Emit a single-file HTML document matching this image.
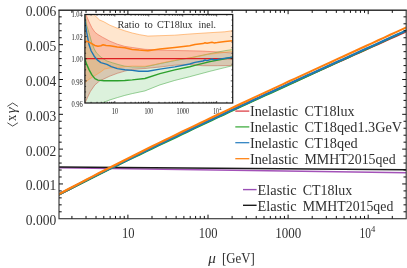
<!DOCTYPE html>
<html><head><meta charset="utf-8"><title>chart</title>
<style>html,body{margin:0;padding:0;background:#fff;overflow:hidden}svg{display:block;position:absolute;left:0;top:0}</style></head>
<body>
<svg width="407" height="268" viewBox="0 0 407 268">
<rect width="407" height="268" fill="#fff"/>
<clipPath id="mc"><rect x="59.0" y="10.2" width="347.2" height="208.45000000000002"/></clipPath>
<g clip-path="url(#mc)" fill="none" stroke-linecap="butt">
<path d="M59.0,167.7 L406.2,172.7" stroke="#a352b8" stroke-width="1.4"/>
<path d="M59.0,167.0 L406.2,169.7" stroke="#1a1a1a" stroke-width="1.6"/>
<path d="M57.0,195.7 L62.9,192.6 L68.9,189.5 L74.8,186.4 L80.8,183.3 L86.7,180.3 L92.7,177.2 L98.6,174.2 L104.6,171.2 L110.5,168.2 L116.5,165.3 L122.4,162.3 L128.4,159.4 L134.3,156.4 L140.3,153.5 L146.2,150.6 L152.2,147.7 L158.1,144.9 L164.1,142.0 L170.0,139.2 L176.0,136.3 L181.9,133.5 L187.9,130.7 L193.8,127.9 L199.8,125.1 L205.7,122.3 L211.7,119.5 L217.6,116.8 L223.6,114.0 L229.5,111.3 L235.5,108.5 L241.4,105.8 L247.4,103.1 L253.3,100.3 L259.3,97.6 L265.2,94.9 L271.2,92.2 L277.1,89.5 L283.1,86.8 L289.0,84.1 L295.0,81.5 L300.9,78.8 L306.9,76.1 L312.8,73.4 L318.8,70.7 L324.7,68.1 L330.7,65.4 L336.6,62.7 L342.6,60.1 L348.5,57.4 L354.5,54.7 L360.4,52.0 L366.4,49.4 L372.3,46.7 L378.3,44.0 L384.2,41.3 L390.2,38.7 L396.1,36.0 L402.1,33.3 L408.0,30.6" stroke="#d62728" stroke-width="2.0"/>
<path d="M57.0,195.8 L62.9,192.7 L68.9,189.6 L74.8,186.6 L80.8,183.6 L86.7,180.6 L92.7,177.6 L98.6,174.6 L104.6,171.7 L110.5,168.7 L116.5,165.8 L122.4,162.9 L128.4,160.0 L134.3,157.1 L140.3,154.3 L146.2,151.4 L152.2,148.6 L158.1,145.7 L164.1,142.9 L170.0,140.1 L176.0,137.3 L181.9,134.4 L187.9,131.6 L193.8,128.7 L199.8,125.9 L205.7,123.1 L211.7,120.3 L217.6,117.5 L223.6,114.8 L229.5,112.0 L235.5,109.2 L241.4,106.5 L247.4,103.7 L253.3,101.0 L259.3,98.2 L265.2,95.5 L271.2,92.8 L277.1,90.1 L283.1,87.3 L289.0,84.6 L295.0,81.9 L300.9,79.2 L306.9,76.5 L312.8,73.7 L318.8,71.0 L324.7,68.2 L330.7,65.5 L336.6,62.7 L342.6,60.0 L348.5,57.3 L354.5,54.5 L360.4,51.8 L366.4,49.1 L372.3,46.3 L378.3,43.6 L384.2,40.8 L390.2,38.1 L396.1,35.3 L402.1,32.6 L408.0,29.8" stroke="#2ca02c" stroke-width="1.9"/>
<path d="M57.0,195.4 L62.9,192.3 L68.9,189.2 L74.8,186.2 L80.8,183.1 L86.7,180.1 L92.7,177.1 L98.6,174.1 L104.6,171.1 L110.5,168.2 L116.5,165.2 L122.4,162.3 L128.4,159.4 L134.3,156.5 L140.3,153.6 L146.2,150.7 L152.2,147.8 L158.1,145.0 L164.1,142.1 L170.0,139.3 L176.0,136.5 L181.9,133.6 L187.9,130.8 L193.8,127.9 L199.8,125.1 L205.7,122.3 L211.7,119.5 L217.6,116.7 L223.6,113.9 L229.5,111.1 L235.5,108.4 L241.4,105.6 L247.4,102.9 L253.3,100.1 L259.3,97.4 L265.2,94.6 L271.2,91.9 L277.1,89.2 L283.1,86.5 L289.0,83.7 L295.0,81.0 L300.9,78.3 L306.9,75.6 L312.8,72.9 L318.8,70.2 L324.7,67.5 L330.7,64.8 L336.6,62.1 L342.6,59.4 L348.5,56.7 L354.5,54.0 L360.4,51.3 L366.4,48.6 L372.3,45.9 L378.3,43.2 L384.2,40.5 L390.2,37.8 L396.1,35.1 L402.1,32.4 L408.0,29.7" stroke="#1f77b4" stroke-width="2.2"/>
<path d="M57.0,195.2 L62.9,192.0 L68.9,188.8 L74.8,185.7 L80.8,182.6 L86.7,179.5 L92.7,176.4 L98.6,173.3 L104.6,170.2 L110.5,167.2 L116.5,164.2 L122.4,161.2 L128.4,158.2 L134.3,155.2 L140.3,152.2 L146.2,149.3 L152.2,146.3 L158.1,143.4 L164.1,140.5 L170.0,137.6 L176.0,134.7 L181.9,131.8 L187.9,128.9 L193.8,126.1 L199.8,123.2 L205.7,120.4 L211.7,117.5 L217.6,114.7 L223.6,111.9 L229.5,109.1 L235.5,106.3 L241.4,103.5 L247.4,100.7 L253.3,97.9 L259.3,95.1 L265.2,92.4 L271.2,89.6 L277.1,86.9 L283.1,84.1 L289.0,81.3 L295.0,78.6 L300.9,75.9 L306.9,73.1 L312.8,70.4 L318.8,67.6 L324.7,64.9 L330.7,62.2 L336.6,59.4 L342.6,56.7 L348.5,54.0 L354.5,51.3 L360.4,48.5 L366.4,45.8 L372.3,43.1 L378.3,40.3 L384.2,37.6 L390.2,34.8 L396.1,32.1 L402.1,29.4 L408.0,26.6" stroke="#ff7f0e" stroke-width="2.1"/>
</g>
<rect x="59.0" y="10.2" width="347.2" height="208.5" fill="none" stroke="#383838" stroke-width="1.15"/>
<path d="M58.5,10.2 H406.7" stroke="#2a2a2a" stroke-width="1.15"/>
<path d="M71.91,218.65 v-2.7 M71.91,10.2 v2.7 M86.02,218.65 v-2.7 M86.02,10.2 v2.7 M96.03,218.65 v-2.7 M96.03,10.2 v2.7 M103.79,218.65 v-2.7 M103.79,10.2 v2.7 M110.13,218.65 v-2.7 M110.13,10.2 v2.7 M115.49,218.65 v-2.7 M115.49,10.2 v2.7 M120.14,218.65 v-2.7 M120.14,10.2 v2.7 M124.23,218.65 v-2.7 M124.23,10.2 v2.7 M127.90,218.65 v-4.0 M127.90,10.2 v4.0 M152.01,218.65 v-2.7 M152.01,10.2 v2.7 M166.12,218.65 v-2.7 M166.12,10.2 v2.7 M176.13,218.65 v-2.7 M176.13,10.2 v2.7 M183.89,218.65 v-2.7 M183.89,10.2 v2.7 M190.23,218.65 v-2.7 M190.23,10.2 v2.7 M195.59,218.65 v-2.7 M195.59,10.2 v2.7 M200.24,218.65 v-2.7 M200.24,10.2 v2.7 M204.33,218.65 v-2.7 M204.33,10.2 v2.7 M208.00,218.65 v-4.0 M208.00,10.2 v4.0 M232.11,218.65 v-2.7 M232.11,10.2 v2.7 M246.22,218.65 v-2.7 M246.22,10.2 v2.7 M256.23,218.65 v-2.7 M256.23,10.2 v2.7 M263.99,218.65 v-2.7 M263.99,10.2 v2.7 M270.33,218.65 v-2.7 M270.33,10.2 v2.7 M275.69,218.65 v-2.7 M275.69,10.2 v2.7 M280.34,218.65 v-2.7 M280.34,10.2 v2.7 M284.43,218.65 v-2.7 M284.43,10.2 v2.7 M288.10,218.65 v-4.0 M288.10,10.2 v4.0 M312.21,218.65 v-2.7 M312.21,10.2 v2.7 M326.32,218.65 v-2.7 M326.32,10.2 v2.7 M336.33,218.65 v-2.7 M336.33,10.2 v2.7 M344.09,218.65 v-2.7 M344.09,10.2 v2.7 M350.43,218.65 v-2.7 M350.43,10.2 v2.7 M355.79,218.65 v-2.7 M355.79,10.2 v2.7 M360.44,218.65 v-2.7 M360.44,10.2 v2.7 M364.53,218.65 v-2.7 M364.53,10.2 v2.7 M368.20,218.65 v-4.0 M368.20,10.2 v4.0 M392.31,218.65 v-2.7 M392.31,10.2 v2.7 M59.0,211.79 h2.7 M406.2,211.79 h-2.7 M59.0,204.83 h2.7 M406.2,204.83 h-2.7 M59.0,197.86 h2.7 M406.2,197.86 h-2.7 M59.0,190.90 h2.7 M406.2,190.90 h-2.7 M59.0,183.94 h4.0 M406.2,183.94 h-4.0 M59.0,176.98 h2.7 M406.2,176.98 h-2.7 M59.0,170.02 h2.7 M406.2,170.02 h-2.7 M59.0,163.05 h2.7 M406.2,163.05 h-2.7 M59.0,156.09 h2.7 M406.2,156.09 h-2.7 M59.0,149.13 h4.0 M406.2,149.13 h-4.0 M59.0,142.17 h2.7 M406.2,142.17 h-2.7 M59.0,135.21 h2.7 M406.2,135.21 h-2.7 M59.0,128.24 h2.7 M406.2,128.24 h-2.7 M59.0,121.28 h2.7 M406.2,121.28 h-2.7 M59.0,114.32 h4.0 M406.2,114.32 h-4.0 M59.0,107.36 h2.7 M406.2,107.36 h-2.7 M59.0,100.40 h2.7 M406.2,100.40 h-2.7 M59.0,93.43 h2.7 M406.2,93.43 h-2.7 M59.0,86.47 h2.7 M406.2,86.47 h-2.7 M59.0,79.51 h4.0 M406.2,79.51 h-4.0 M59.0,72.55 h2.7 M406.2,72.55 h-2.7 M59.0,65.59 h2.7 M406.2,65.59 h-2.7 M59.0,58.62 h2.7 M406.2,58.62 h-2.7 M59.0,51.66 h2.7 M406.2,51.66 h-2.7 M59.0,44.70 h4.0 M406.2,44.70 h-4.0 M59.0,37.74 h2.7 M406.2,37.74 h-2.7 M59.0,30.78 h2.7 M406.2,30.78 h-2.7 M59.0,23.81 h2.7 M406.2,23.81 h-2.7 M59.0,16.85 h2.7 M406.2,16.85 h-2.7" stroke="#111" stroke-width="1.0" fill="none"/>
<g font-family="'Liberation Serif', serif" fill="#303030" style="filter:grayscale(1)">
<text x="25.8" y="225.2" font-size="14.2" text-anchor="start" textLength="30.5" lengthAdjust="spacingAndGlyphs" >0.000</text>
<text x="25.8" y="190.3" font-size="14.2" text-anchor="start" textLength="30.5" lengthAdjust="spacingAndGlyphs" >0.001</text>
<text x="25.8" y="155.5" font-size="14.2" text-anchor="start" textLength="30.5" lengthAdjust="spacingAndGlyphs" >0.002</text>
<text x="25.8" y="120.7" font-size="14.2" text-anchor="start" textLength="30.5" lengthAdjust="spacingAndGlyphs" >0.003</text>
<text x="25.8" y="85.9" font-size="14.2" text-anchor="start" textLength="30.5" lengthAdjust="spacingAndGlyphs" >0.004</text>
<text x="25.8" y="51.1" font-size="14.2" text-anchor="start" textLength="30.5" lengthAdjust="spacingAndGlyphs" >0.005</text>
<text x="25.8" y="16.3" font-size="14.2" text-anchor="start" textLength="30.5" lengthAdjust="spacingAndGlyphs" >0.006</text>
<text x="122.0" y="237.6" font-size="14.2" text-anchor="start" textLength="12.6" lengthAdjust="spacingAndGlyphs" >10</text>
<text x="198.8" y="237.6" font-size="14.2" text-anchor="start" textLength="18.8" lengthAdjust="spacingAndGlyphs" >100</text>
<text x="275.2" y="237.6" font-size="14.2" text-anchor="start" textLength="26.0" lengthAdjust="spacingAndGlyphs" >1000</text>
<text x="359.6" y="237.6" font-size="14.2" text-anchor="start" textLength="11.4" lengthAdjust="spacingAndGlyphs" >10</text>
<text x="371.0" y="232.4" font-size="8.6" text-anchor="start" >4</text>
<text x="208.2" y="262.8" font-size="14.2" text-anchor="start" textLength="7.6" lengthAdjust="spacingAndGlyphs" font-style="italic">μ</text>
<text x="221.9" y="262.8" font-size="14.2" text-anchor="start" textLength="32.9" lengthAdjust="spacingAndGlyphs" >[GeV]</text>
<g transform="translate(16.2,126.3) rotate(-90)">
<path d="M3.5,-8.8 L0.2,-3.55 L3.5,1.7" fill="none" stroke="#303030" stroke-width="0.85"/>
<text x="5.2" y="0" font-size="14.0" text-anchor="start" textLength="6.2" lengthAdjust="spacingAndGlyphs" >x</text>
<text x="13.0" y="0" font-size="14.0" text-anchor="start" textLength="5.8" lengthAdjust="spacingAndGlyphs" font-style="italic">γ</text>
<path d="M19.9,-8.8 L23.3,-3.55 L19.9,1.7" fill="none" stroke="#303030" stroke-width="0.85"/>
</g>
<text x="249.9" y="116.0" font-size="14.2" text-anchor="start" textLength="48.3" lengthAdjust="spacingAndGlyphs" >Inelastic</text>
<text x="304.5" y="116.0" font-size="14.2" text-anchor="start" textLength="50.1" lengthAdjust="spacingAndGlyphs" >CT18lux</text>
<text x="249.9" y="131.8" font-size="14.2" text-anchor="start" textLength="48.3" lengthAdjust="spacingAndGlyphs" >Inelastic</text>
<text x="304.5" y="131.8" font-size="14.2" text-anchor="start" textLength="97.6" lengthAdjust="spacingAndGlyphs" >CT18qed1.3GeV</text>
<text x="249.9" y="147.6" font-size="14.2" text-anchor="start" textLength="48.3" lengthAdjust="spacingAndGlyphs" >Inelastic</text>
<text x="304.5" y="147.6" font-size="14.2" text-anchor="start" textLength="53.1" lengthAdjust="spacingAndGlyphs" >CT18qed</text>
<text x="249.9" y="163.6" font-size="14.2" text-anchor="start" textLength="48.3" lengthAdjust="spacingAndGlyphs" >Inelastic</text>
<text x="304.5" y="163.6" font-size="14.2" text-anchor="start" textLength="91.1" lengthAdjust="spacingAndGlyphs" >MMHT2015qed</text>
<text x="257.5" y="194.9" font-size="14.2" text-anchor="start" textLength="39.1" lengthAdjust="spacingAndGlyphs" >Elastic</text>
<text x="302.8" y="194.9" font-size="14.2" text-anchor="start" textLength="49.5" lengthAdjust="spacingAndGlyphs" >CT18lux</text>
<text x="257.5" y="210.6" font-size="14.2" text-anchor="start" textLength="39.1" lengthAdjust="spacingAndGlyphs" >Elastic</text>
<text x="302.8" y="210.6" font-size="14.2" text-anchor="start" textLength="90.5" lengthAdjust="spacingAndGlyphs" >MMHT2015qed</text>
</g>
<path d="M235.3,111.1 H249.3" stroke="#dc3a40" stroke-width="1.25"/>
<path d="M235.3,126.9 H249.3" stroke="#3aaa3a" stroke-width="1.25"/>
<path d="M235.3,142.7 H249.3" stroke="#2a7fc0" stroke-width="1.25"/>
<path d="M235.3,158.7 H249.3" stroke="#ff7f0e" stroke-width="1.25"/>
<path d="M243,189.6 H256.6" stroke="#9a4fb5" stroke-width="1.4"/>
<path d="M243,205.3 H256.6" stroke="#1a1a1a" stroke-width="1.4"/>
<rect x="84.9" y="14.5" width="147.79999999999998" height="88.5" fill="#fff"/>
<clipPath id="ic"><rect x="84.9" y="14.5" width="147.79999999999998" height="88.5"/></clipPath>
<g clip-path="url(#ic)" fill="none">
<path d="M84.5,5.6 L86.0,14.8 L89.0,21.8 L91.9,27.8 L94.9,32.2 L97.9,34.5 L102.4,37.2 L109.9,41.2 L117.3,44.2 L124.8,46.4 L132.2,47.5 L144.9,49.3 L159.9,50.0 L174.8,50.5 L189.7,50.8 L202.4,51.1 L217.3,51.9 L232.5,53.0 L232.5,65.5 L217.3,65.7 L202.4,65.7 L189.7,64.5 L174.8,65.2 L159.9,67.0 L144.9,68.5 L132.2,69.4 L124.8,71.1 L117.3,73.3 L109.9,76.1 L103.9,78.9 L99.4,81.1 L94.9,84.9 L90.4,91.4 L87.5,97.4 L85.2,102.6 L84.5,106.5Z" fill="rgba(230,60,50,0.25)" stroke="none"/>
<path d="M84.5,5.6 L86.0,14.8 L89.0,21.8 L91.9,27.8 L94.9,32.2 L97.9,34.5 L102.4,37.2 L109.9,41.2 L117.3,44.2 L124.8,46.4 L132.2,47.5 L144.9,49.3 L159.9,50.0 L174.8,50.5 L189.7,50.8 L202.4,51.1 L217.3,51.9 L232.5,53.0" stroke="#e86060" stroke-width="0.6"/>
<path d="M84.5,106.5 L85.2,102.6 L87.5,97.4 L90.4,91.4 L94.9,84.9 L99.4,81.1 L103.9,78.9 L109.9,76.1 L117.3,73.3 L124.8,71.1 L132.2,69.4 L144.9,68.5 L159.9,67.0 L174.8,65.2 L189.7,64.5 L202.4,65.7 L217.3,65.7 L232.5,65.5" stroke="#e86060" stroke-width="0.6"/>
<path d="M84.5,10.3 L86.7,25.3 L89.0,32.7 L91.9,43.1 L94.2,48.8 L96.4,52.8 L100.9,57.2 L106.9,61.0 L112.8,62.9 L118.8,64.7 L124.8,66.2 L132.2,66.9 L144.9,66.9 L159.9,63.6 L174.8,60.6 L189.7,57.9 L209.9,53.7 L224.8,50.7 L232.5,49.6 L232.5,65.7 L224.8,67.6 L209.9,71.3 L189.7,76.7 L174.8,80.4 L159.9,84.9 L144.9,90.9 L132.2,93.6 L124.8,95.4 L117.3,97.6 L109.9,99.9 L102.4,102.8 L95.0,108.0 L84.5,125.0Z" fill="rgba(60,175,60,0.18)" stroke="none"/>
<path d="M84.5,10.3 L86.7,25.3 L89.0,32.7 L91.9,43.1 L94.2,48.8 L96.4,52.8 L100.9,57.2 L106.9,61.0 L112.8,62.9 L118.8,64.7 L124.8,66.2 L132.2,66.9 L144.9,66.9 L159.9,63.6 L174.8,60.6 L189.7,57.9 L209.9,53.7 L224.8,50.7 L232.5,49.6" stroke="#55b055" stroke-width="0.6"/>
<path d="M84.5,125.0 L95.0,108.0 L102.4,102.8 L109.9,99.9 L117.3,97.6 L124.8,95.4 L132.2,93.6 L144.9,90.9 L159.9,84.9 L174.8,80.4 L189.7,76.7 L209.9,71.3 L224.8,67.6 L232.5,65.7" stroke="#55b055" stroke-width="0.6"/>
<path d="M84.5,-9.4 L94.2,14.8 L99.4,19.9 L103.9,21.8 L109.9,25.2 L117.3,28.2 L124.8,30.8 L132.2,33.0 L139.7,34.7 L147.9,36.1 L159.9,35.7 L174.8,35.2 L189.7,34.0 L209.9,32.7 L224.8,31.8 L232.5,30.7 L232.5,51.4 L217.3,53.3 L206.9,54.6 L194.9,57.2 L182.2,58.9 L167.3,61.8 L153.9,64.8 L144.9,66.3 L132.2,66.1 L124.8,66.7 L117.3,67.6 L109.9,67.9 L104.6,69.0 L100.9,71.8 L94.9,75.6 L89.0,79.3 L84.5,83.0Z" fill="rgba(255,140,30,0.22)" stroke="none"/>
<path d="M84.5,-9.4 L94.2,14.8 L99.4,19.9 L103.9,21.8 L109.9,25.2 L117.3,28.2 L124.8,30.8 L132.2,33.0 L139.7,34.7 L147.9,36.1 L159.9,35.7 L174.8,35.2 L189.7,34.0 L209.9,32.7 L224.8,31.8 L232.5,30.7" stroke="#ff9a40" stroke-width="0.6"/>
<path d="M84.5,83.0 L89.0,79.3 L94.9,75.6 L100.9,71.8 L104.6,69.0 L109.9,67.9 L117.3,67.6 L124.8,66.7 L132.2,66.1 L144.9,66.3 L153.9,64.8 L167.3,61.8 L182.2,58.9 L194.9,57.2 L206.9,54.6 L217.3,53.3 L232.5,51.4" stroke="#ff9a40" stroke-width="0.6"/>
<path d="M84.9,58.7 H232.7" stroke="#dc1e22" stroke-width="1.3"/>
<path d="M84.5,58.0 L86.7,64.4 L89.0,69.6 L91.9,74.9 L94.9,78.6 L97.9,80.1 L103.9,80.8 L109.9,80.8 L117.3,80.8 L124.8,80.5 L132.2,79.9 L144.9,78.5 L159.9,73.6 L174.8,69.9 L189.7,66.8 L194.9,65.4 L209.9,61.6 L224.8,58.7 L232.5,57.2" stroke="#2ca02c" stroke-width="1.4" stroke-linejoin="round"/>
<path d="M84.2,10.0 L84.5,17.5 L86.7,32.4 L89.0,44.6 L91.2,51.0 L94.2,56.2 L97.2,59.9 L100.9,62.6 L106.9,64.4 L111.3,66.6 L117.3,68.6 L124.8,69.7 L132.2,70.4 L139.0,71.3 L147.9,71.3 L159.9,69.1 L174.8,66.9 L189.7,64.0 L194.9,62.4 L203.0,61.0 L205.0,60.0 L207.0,60.6 L212.0,59.0 L214.0,59.8 L217.3,59.4 L232.5,57.2" stroke="#1f77b4" stroke-width="1.4" stroke-linejoin="round"/>
<path d="M84.5,41.8 L87.5,41.3 L90.4,42.8 L94.9,45.5 L97.9,46.3 L100.9,45.8 L103.1,44.8 L106.1,45.4 L109.9,45.8 L117.3,46.9 L124.8,47.8 L132.2,49.4 L139.0,50.1 L147.9,50.7 L159.9,49.0 L174.8,47.4 L189.7,45.7 L194.9,44.5 L203.0,43.6 L205.0,42.8 L207.0,43.3 L212.0,42.2 L214.0,42.9 L217.3,42.6 L225.0,41.6 L232.5,40.7" stroke="#ff7f0e" stroke-width="1.5" stroke-linejoin="round"/>
</g>
<rect x="84.9" y="14.5" width="147.79999999999998" height="88.5" fill="none" stroke="#1a1a1a" stroke-width="1.25"/>
<path d="M91.07,103.0 v-1.2 M91.07,14.5 v1.2 M97.05,103.0 v-1.2 M97.05,14.5 v1.2 M101.29,103.0 v-1.2 M101.29,14.5 v1.2 M104.58,103.0 v-1.2 M104.58,14.5 v1.2 M107.27,103.0 v-1.2 M107.27,14.5 v1.2 M109.54,103.0 v-1.2 M109.54,14.5 v1.2 M111.51,103.0 v-1.2 M111.51,14.5 v1.2 M113.25,103.0 v-1.2 M113.25,14.5 v1.2 M114.80,103.0 v-2.0 M114.80,14.5 v2.0 M125.02,103.0 v-1.2 M125.02,14.5 v1.2 M131.00,103.0 v-1.2 M131.00,14.5 v1.2 M135.24,103.0 v-1.2 M135.24,14.5 v1.2 M138.53,103.0 v-1.2 M138.53,14.5 v1.2 M141.22,103.0 v-1.2 M141.22,14.5 v1.2 M143.49,103.0 v-1.2 M143.49,14.5 v1.2 M145.46,103.0 v-1.2 M145.46,14.5 v1.2 M147.20,103.0 v-1.2 M147.20,14.5 v1.2 M148.75,103.0 v-2.0 M148.75,14.5 v2.0 M158.97,103.0 v-1.2 M158.97,14.5 v1.2 M164.95,103.0 v-1.2 M164.95,14.5 v1.2 M169.19,103.0 v-1.2 M169.19,14.5 v1.2 M172.48,103.0 v-1.2 M172.48,14.5 v1.2 M175.17,103.0 v-1.2 M175.17,14.5 v1.2 M177.44,103.0 v-1.2 M177.44,14.5 v1.2 M179.41,103.0 v-1.2 M179.41,14.5 v1.2 M181.15,103.0 v-1.2 M181.15,14.5 v1.2 M182.70,103.0 v-2.0 M182.70,14.5 v2.0 M192.92,103.0 v-1.2 M192.92,14.5 v1.2 M198.90,103.0 v-1.2 M198.90,14.5 v1.2 M203.14,103.0 v-1.2 M203.14,14.5 v1.2 M206.43,103.0 v-1.2 M206.43,14.5 v1.2 M209.12,103.0 v-1.2 M209.12,14.5 v1.2 M211.39,103.0 v-1.2 M211.39,14.5 v1.2 M213.36,103.0 v-1.2 M213.36,14.5 v1.2 M215.10,103.0 v-1.2 M215.10,14.5 v1.2 M216.65,103.0 v-2.0 M216.65,14.5 v2.0 M226.87,103.0 v-1.2 M226.87,14.5 v1.2 M84.9,97.47 h1.2 M232.7,97.47 h-1.2 M84.9,91.94 h1.2 M232.7,91.94 h-1.2 M84.9,86.41 h1.2 M232.7,86.41 h-1.2 M84.9,80.88 h2.0 M232.7,80.88 h-2.0 M84.9,75.34 h1.2 M232.7,75.34 h-1.2 M84.9,69.81 h1.2 M232.7,69.81 h-1.2 M84.9,64.28 h1.2 M232.7,64.28 h-1.2 M84.9,58.75 h2.0 M232.7,58.75 h-2.0 M84.9,53.22 h1.2 M232.7,53.22 h-1.2 M84.9,47.69 h1.2 M232.7,47.69 h-1.2 M84.9,42.16 h1.2 M232.7,42.16 h-1.2 M84.9,36.62 h2.0 M232.7,36.62 h-2.0 M84.9,31.09 h1.2 M232.7,31.09 h-1.2 M84.9,25.56 h1.2 M232.7,25.56 h-1.2 M84.9,20.03 h1.2 M232.7,20.03 h-1.2" stroke="#111" stroke-width="0.7" fill="none"/>
<g font-family="'Liberation Serif', serif" fill="#303030" style="filter:grayscale(1)">
<text x="71.4" y="107.0" font-size="7.6" text-anchor="start" textLength="11.4" lengthAdjust="spacingAndGlyphs" fill="#181818">0.96</text>
<text x="71.4" y="85.0" font-size="7.6" text-anchor="start" textLength="11.4" lengthAdjust="spacingAndGlyphs" fill="#181818">0.98</text>
<text x="71.4" y="62.0" font-size="7.6" text-anchor="start" textLength="11.4" lengthAdjust="spacingAndGlyphs" fill="#181818">1.00</text>
<text x="71.4" y="40.0" font-size="7.6" text-anchor="start" textLength="11.4" lengthAdjust="spacingAndGlyphs" fill="#181818">1.02</text>
<text x="71.4" y="17.0" font-size="7.6" text-anchor="start" textLength="11.4" lengthAdjust="spacingAndGlyphs" fill="#181818">1.04</text>
<text x="111.8" y="113.9" font-size="7.4" text-anchor="start" textLength="6.3" lengthAdjust="spacingAndGlyphs" fill="#181818">10</text>
<text x="144.4" y="113.9" font-size="7.4" text-anchor="start" textLength="8.8" lengthAdjust="spacingAndGlyphs" fill="#181818">100</text>
<text x="176.6" y="113.9" font-size="7.4" text-anchor="start" textLength="12.4" lengthAdjust="spacingAndGlyphs" fill="#181818">1000</text>
<text x="213.2" y="113.9" font-size="7.4" text-anchor="start" textLength="5.6" lengthAdjust="spacingAndGlyphs" fill="#181818">10</text>
<text x="219.2" y="110.4" font-size="4.4" text-anchor="start" >4</text>
<text x="117.4" y="27.8" font-size="9.8" text-anchor="start" textLength="22.3" lengthAdjust="spacingAndGlyphs" >Ratio</text>
<text x="144.5" y="27.8" font-size="9.8" text-anchor="start" textLength="8.3" lengthAdjust="spacingAndGlyphs" >to</text>
<text x="156.9" y="27.8" font-size="9.8" text-anchor="start" textLength="35.6" lengthAdjust="spacingAndGlyphs" >CT18lux</text>
<text x="198.5" y="27.8" font-size="9.8" text-anchor="start" textLength="17.5" lengthAdjust="spacingAndGlyphs" >inel.</text>
</g>
</svg>
</body></html>
